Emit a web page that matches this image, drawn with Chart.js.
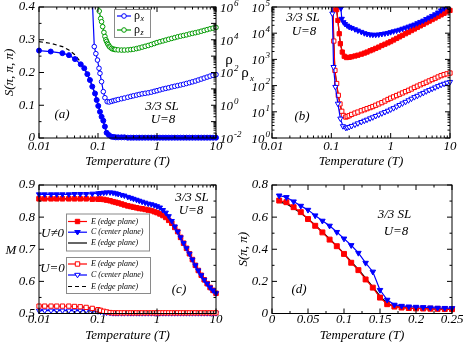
<!DOCTYPE html>
<html>
<head>
<meta charset="utf-8">
<script src="https://cdn.jsdelivr.net/npm/chart.js@4.4.0/dist/chart.umd.min.js"></script>
<style>
  html, body { margin: 0; padding: 0; background: #fff; }
  #wrap { position: relative; width: 463px; height: 343px; overflow: hidden; }
  #wrap canvas { position: absolute; left: 0; top: 0; }
</style>
</head>
<body>
<div id="wrap">
  <canvas id="pa" width="463" height="343"></canvas>
  <canvas id="pb" width="463" height="343"></canvas>
  <canvas id="pc" width="463" height="343"></canvas>
  <canvas id="pd" width="463" height="343"></canvas>
</div>
<script>
// ---- data ----

// shared temperature grid above T = 0.2 (log panels)
const tGrid = [0.2, 0.22, 0.25, 0.28, 0.32, 0.36, 0.4, 0.45, 0.5, 0.56, 0.63, 0.71, 0.8, 0.9, 1,
  1.12, 1.26, 1.41, 1.58, 1.78, 2, 2.24, 2.51, 2.82, 3.16, 3.55, 3.98, 4.47, 5.01, 5.62, 6.31,
  7.08, 7.94, 8.91, 10];

// (a) S(pi,pi,pi), filled circles
const tSA = [0.01, 0.0158, 0.0249, 0.0322, 0.0407, 0.051, 0.0585, 0.066, 0.073, 0.08, 0.089,
  0.095, 0.101, 0.108, 0.115, 0.123, 0.131, 0.14, 0.153, 0.17, 0.185, ...tGrid];
const sA = [0.267, 0.264, 0.259, 0.253, 0.241, 0.225, 0.213, 0.195, 0.177, 0.157, 0.136,
  0.116, 0.098, 0.080, 0.065, 0.053, 0.035, 0.016, 0.009, 0.004, 0.003,
  0.002, 0.002, 0.002, 0.002, 0.001, 0.001, 0.001, 0.001, 0.001, 0.001, 0.001, 0.001, 0.001,
  0.001, 0.001, 0.001, 0.001, 0.001, 0.001, 0.001, 0.001, 0.001, 0.001, 0.001, 0.001, 0.001,
  0.001, 0.001, 0.001, 0.001, 0.001, 0.001, 0.001, 0.001, 0.001];
// (a) dashed reference curve
const tSADash = [0.01, 0.0158, 0.025, 0.032, 0.04, 0.05, 0.06, 0.07, 0.08, 0.09, 0.1, 0.11,
  0.12, 0.13, 0.14, 0.15, 0.16, 0.18, 0.2, 0.5, 1, 10];
const sADash = [0.294, 0.289, 0.279, 0.269, 0.255, 0.234, 0.21, 0.185, 0.158, 0.133, 0.104,
  0.079, 0.057, 0.035, 0.014, 0.004, 0.001, 0, 0, 0, 0, 0];
// (a) rho_x and rho_z, log10 values
const tRhoXA = [0.08, 0.0865, 0.092, 0.098, 0.104, 0.108, 0.115, 0.123, 0.131, 0.143, 0.155,
  0.17, 0.185, ...tGrid];
const rhoXALog = [6.5, 3.58, 3.15, 2.76, 2.26, 1.95, 1.44, 0.83, 0.46, 0.22, 0.2, 0.24, 0.28,
  0.31, 0.35, 0.4, 0.44, 0.49, 0.54, 0.58, 0.62, 0.66, 0.7, 0.73, 0.76, 0.8, 0.85, 0.89,
  0.94, 0.99, 1.03, 1.07, 1.12, 1.16, 1.2, 1.24, 1.28, 1.33, 1.38, 1.43, 1.48, 1.54, 1.6,
  1.66, 1.72, 1.78, 1.83, 1.87];
const tRhoZA = [0.098, 0.105, 0.111, 0.115, 0.12, 0.126, 0.131, 0.136, 0.14, 0.145, 0.149,
  0.155, 0.16, 0.17, 0.18, 0.19, ...tGrid];
const rhoZALog = [6.6, 5.75, 5.3, 5.1, 4.8, 4.45, 4.2, 4.0, 3.9, 3.78, 3.7, 3.6, 3.55, 3.47,
  3.43, 3.41,
  3.4, 3.38, 3.37, 3.37, 3.38, 3.4, 3.42, 3.46, 3.5, 3.55, 3.6, 3.65, 3.71, 3.77, 3.83,
  3.88, 3.93, 3.98, 4.03, 4.08, 4.13, 4.18, 4.22, 4.26, 4.3, 4.35, 4.39, 4.43, 4.47, 4.52,
  4.57, 4.62, 4.67, 4.71, 4.75];

// (b) rho_x, log10 values
const tBlueUpB = [0.14, 0.145, 0.15, 0.16, 0.17, 0.185, ...tGrid];
const blueUpBLog = [5.6, 4.95, 4.55, 4.42, 4.35, 4.29,
  4.24, 4.2, 4.15, 4.1, 4.05, 4.0, 3.97, 3.95, 3.94, 3.94, 3.95, 3.97, 3.99, 4.01, 4.04,
  4.07, 4.1, 4.13, 4.17, 4.21, 4.25, 4.29, 4.33, 4.38, 4.43, 4.48, 4.54, 4.6, 4.66, 4.72,
  4.79, 4.87, 4.95, 5.03, 5.1];
const tRedUpB = [0.118, 0.123, 0.129, 0.136, 0.142, 0.153, 0.165, 0.18, ...tGrid];
const redUpBLog = [5.6, 4.9, 4.49, 3.98, 3.6, 3.28, 3.12, 3.07,
  3.08, 3.1, 3.13, 3.16, 3.2, 3.24, 3.28, 3.33, 3.37, 3.42, 3.47, 3.53, 3.58, 3.63, 3.68,
  3.74, 3.8, 3.86, 3.92, 3.98, 4.04, 4.1, 4.16, 4.22, 4.28, 4.34, 4.4, 4.46, 4.52, 4.58,
  4.64, 4.7, 4.76, 4.82, 4.87];
const tRedLowB = [0.105, 0.11, 0.115, 0.123, 0.131, 0.14, 0.15, 0.16, 0.175, 0.185, ...tGrid];
const redLowBLog = [5.6, 3.7, 2.58, 2.08, 1.63, 1.3, 1.02, 0.86, 0.8, 0.82,
  0.85, 0.9, 0.95, 0.99, 1.04, 1.08, 1.12, 1.16, 1.2, 1.25, 1.3, 1.35, 1.41, 1.47, 1.52,
  1.57, 1.62, 1.67, 1.72, 1.77, 1.82, 1.87, 1.93, 1.98, 2.03, 2.08, 2.13, 2.18, 2.23, 2.28,
  2.33, 2.38, 2.42, 2.45, 2.48];
const tBlueLowB = [0.1, 0.104, 0.109, 0.117, 0.129, 0.142, 0.157, 0.175, 0.185, ...tGrid];
const blueLowBLog = [5.6, 4.75, 2.71, 1.95, 1.31, 0.74, 0.45, 0.39, 0.4,
  0.42, 0.46, 0.51, 0.56, 0.61, 0.66, 0.7, 0.75, 0.79, 0.84, 0.89, 0.94, 0.99, 1.04, 1.09,
  1.14, 1.2, 1.26, 1.32, 1.38, 1.44, 1.5, 1.56, 1.61, 1.67, 1.72, 1.78, 1.83, 1.88, 1.93,
  1.98, 2.03, 2.07, 2.11, 2.14];

// (c) M vs T
const tC = [0.01, 0.0125, 0.016, 0.02, 0.025, 0.032, 0.04, 0.05, 0.063, 0.08, 0.1, 0.11,
  0.125, 0.14, 0.16, 0.18, 0.2, 0.22, 0.25, 0.28, 0.32, 0.36, 0.4, 0.45, 0.5, 0.56, 0.63,
  0.71, 0.8, 0.9, 1, 1.12, 1.26, 1.41, 1.58, 1.78, 2, 2.24, 2.51, 2.82, 3.16, 3.55, 3.98,
  4.47, 5.01, 5.62, 6.31, 7.08, 7.94, 8.91, 10];
const mCenterU = [0.871, 0.871, 0.871, 0.871, 0.871, 0.871, 0.872, 0.872, 0.872, 0.873,
  0.874, 0.875, 0.876, 0.877, 0.877, 0.876, 0.874, 0.872, 0.869, 0.867,
  0.863, 0.86, 0.857, 0.854, 0.851, 0.848, 0.845, 0.842, 0.84, 0.837,
  0.834, 0.83, 0.822, 0.814, 0.803, 0.788, 0.771, 0.755, 0.737, 0.719,
  0.703, 0.686, 0.668, 0.65, 0.634, 0.619, 0.605, 0.593, 0.581, 0.572, 0.563];
const mEdgeU = [0.857, 0.857, 0.857, 0.857, 0.857, 0.857, 0.857, 0.857, 0.857, 0.856,
  0.856, 0.856, 0.855, 0.853, 0.851, 0.848, 0.846, 0.844, 0.841, 0.838,
  0.835, 0.833, 0.831, 0.829, 0.827, 0.826, 0.824, 0.822, 0.82, 0.817,
  0.814, 0.81, 0.805, 0.799, 0.79, 0.781, 0.768, 0.755, 0.737, 0.719,
  0.703, 0.686, 0.668, 0.65, 0.634, 0.619, 0.605, 0.593, 0.581, 0.572, 0.563];
const mEdge0 = [0.523, 0.523, 0.523, 0.523, 0.523, 0.523, 0.522, 0.521, 0.519, 0.516,
  0.512, 0.51, 0.507, 0.505, 0.503, 0.502, 0.502, 0.502, 0.502, 0.502,
  0.502, 0.502, 0.502, 0.502, 0.502, 0.502, 0.502, 0.502, 0.502, 0.502,
  0.502, 0.502, 0.502, 0.502, 0.502, 0.502, 0.502, 0.502, 0.502, 0.502,
  0.502, 0.502, 0.502, 0.502, 0.502, 0.502, 0.502, 0.502, 0.502, 0.502, 0.502];
const mCenter0 = [0.509, 0.509, 0.509, 0.509, 0.509, 0.509, 0.509, 0.509, 0.509, 0.508,
  0.507, 0.506, 0.504, 0.503, 0.502, 0.501, 0.501, 0.501, 0.501, 0.501,
  0.501, 0.501, 0.501, 0.501, 0.501, 0.501, 0.501, 0.501, 0.501, 0.501,
  0.501, 0.501, 0.501, 0.501, 0.501, 0.501, 0.501, 0.501, 0.501, 0.501,
  0.501, 0.501, 0.501, 0.501, 0.501, 0.501, 0.501, 0.501, 0.501, 0.501, 0.501];

// (d) S(pi,pi) vs T, linear
const tD = [0.01, 0.02, 0.03, 0.04, 0.05, 0.06, 0.07, 0.08, 0.09, 0.1, 0.11, 0.12, 0.13,
  0.14, 0.15, 0.16, 0.17, 0.18, 0.19, 0.2, 0.21, 0.22, 0.23, 0.24, 0.25];
const sEdgeD = [0.703, 0.693, 0.662, 0.631, 0.588, 0.546, 0.505, 0.46, 0.419, 0.371, 0.316,
  0.27, 0.212, 0.161, 0.099, 0.058, 0.043, 0.037, 0.034, 0.032, 0.031, 0.03, 0.029, 0.028, 0.027];
const sCenterD = [0.734, 0.724, 0.697, 0.67, 0.645, 0.61, 0.577, 0.546, 0.507, 0.466, 0.425,
  0.377, 0.315, 0.26, 0.146, 0.085, 0.054, 0.047, 0.043, 0.041, 0.039, 0.037, 0.035, 0.034, 0.033];
const sEdgeLineD = [0.695, 0.683, 0.655, 0.626, 0.59, 0.55, 0.508, 0.464, 0.42, 0.373, 0.322,
  0.275, 0.22, 0.165, 0.108, 0.062, 0.044, 0.038, 0.034, 0.032, 0.03, 0.029, 0.028, 0.027, 0.026];

// tick values and labels (power labels hold the exponent only)
const tempDecades = [0.01, 0.1, 1, 10];
const tempLabels = ['0.01', '0.1', '1', '10'];
const rhoADecades = [1e-2, 1e-1, 1, 10, 100, 1e3, 1e4, 1e5, 1e6];
const rhoAExps = ['-2', null, '0', null, '2', null, '4', null, '6'];
const rhoBDecades = [1, 10, 100, 1e3, 1e4, 1e5];
const rhoBExps = ['0', '1', '2', '3', '4', '5'];
const sATicks = [0, 0.1, 0.2, 0.3, 0.4];
const sALabels = ['0', '0.1', '0.2', '0.3', '0.4'];
const mTicks = [0.5, 0.6, 0.7, 0.8, 0.9];
const mLabels = ['0.5', '0.6', '0.7', '0.8', '0.9'];
const tDTicks = [0, 0.05, 0.1, 0.15, 0.2, 0.25];
const tDLabels = ['0', '0.05', '0.1', '0.15', '0.2', '0.25'];
const sDTicks = [0, 0.2, 0.4, 0.6, 0.8];
const sDLabels = ['0', '0.2', '0.4', '0.6', '0.8'];

// ---- helpers ----
const SERIF = '"Liberation Serif", "Times New Roman", serif';
const BLUE = '#0000ff', RED = '#ff0000', GREEN = '#009a00', BLACK = '#000000';

Chart.defaults.font.family = SERIF;
Chart.defaults.font.style = 'italic';
Chart.defaults.font.size = 13;
Chart.defaults.color = '#000';
Chart.defaults.animation = false;
Chart.defaults.events = [];
Chart.defaults.plugins.legend.display = false;
Chart.defaults.plugins.tooltip.enabled = false;

const series = (xs, ys) => xs.map((x, i) => ({ x: x, y: ys[i] }));
const fromLog = arr => arr.map(v => Math.pow(10, v));

function logTicks(decades, labels, exps) {
  const list = [];
  decades.forEach((d, i) => {
    list.push({ value: d, major: true, label: labels ? labels[i] : '', exp: exps ? exps[i] : null });
    if (i < decades.length - 1) {
      for (let k = 2; k < 10; k++) list.push({ value: d * k, major: false, label: '' });
    }
  });
  return list;
}

function linTicks(values, labels) {
  const list = [];
  values.forEach((v, i) => {
    list.push({ value: v, major: true, label: labels[i] });
    if (i < values.length - 1) list.push({ value: (v + values[i + 1]) / 2, major: false, label: '' });
  });
  return list;
}

const fixWidth = w => s => { s.width = w; s.paddingTop = 0; s.paddingBottom = 0; };
const fixHeight = h => s => { s.height = h; s.paddingLeft = 0; s.paddingRight = 0; };

function axis(opts) {
  const list = opts.list;
  const cfg = {
    type: opts.type, position: opts.position, min: opts.min, max: opts.max, bounds: 'data',
    grid: { display: false, drawTicks: false }, border: { display: false },
    ticks: { autoSkip: false, maxRotation: 0, padding: opts.pad, callback: (v, i, ticks) => ticks[i].label || '' },
    afterBuildTicks: s => { s.ticks = list.map(t => Object.assign({}, t)); },
    afterFit: opts.horizontal ? fixHeight(opts.size) : fixWidth(opts.size)
  };
  if (opts.title) {
    cfg.title = { display: true, text: opts.title, padding: opts.titlePad };
  }
  return cfg;
}

function drawMark(ctx, shape, x, y, r) {
  ctx.beginPath();
  if (shape === 'circle') {
    ctx.arc(x, y, r, 0, Math.PI * 2);
  } else if (shape === 'rect') {
    ctx.rect(x - r, y - r, 2 * r, 2 * r);
  } else if (shape === 'tri') {
    ctx.moveTo(x - r, y - r * 0.6);
    ctx.lineTo(x + r, y - r * 0.6);
    ctx.lineTo(x, y + r);
    ctx.closePath();
  }
  ctx.fill();
  ctx.stroke();
}

// frame box, inward ticks on chosen sides, and 10^n labels for log axes
const framePlugin = {
  id: 'frame',
  afterDatasetsDraw(chart, args, opts) {
    const { ctx, chartArea: a } = chart;
    ctx.save();
    ctx.strokeStyle = '#000';
    ctx.lineWidth = 1;
    ctx.strokeRect(a.left, a.top, a.right - a.left, a.bottom - a.top);
    Object.entries(opts.sides || {}).forEach(([id, sides]) => {
      const scale = chart.scales[id];
      ctx.beginPath();
      scale.ticks.forEach(t => {
        const p = scale.getPixelForValue(t.value);
        const len = t.major ? 5 : 2.5;
        sides.forEach(s => {
          if (s === 'bottom') { ctx.moveTo(p, a.bottom); ctx.lineTo(p, a.bottom - len); }
          if (s === 'top') { ctx.moveTo(p, a.top); ctx.lineTo(p, a.top + len); }
          if (s === 'left') { ctx.moveTo(a.left, p); ctx.lineTo(a.left + len, p); }
          if (s === 'right') { ctx.moveTo(a.right, p); ctx.lineTo(a.right - len, p); }
        });
      });
      ctx.stroke();
    });
    Object.entries(opts.powers || {}).forEach(([id, pad]) => {
      const scale = chart.scales[id];
      const right = scale.position === 'right';
      ctx.fillStyle = '#000';
      ctx.textBaseline = 'middle';
      ctx.textAlign = 'left';
      scale.ticks.forEach(t => {
        if (t.exp === null || t.exp === undefined) return;
        const p = scale.getPixelForValue(t.value) + 1.5;
        ctx.font = 'italic 13px ' + SERIF;
        const wb = ctx.measureText('10').width;
        ctx.font = 'italic 9px ' + SERIF;
        const we = ctx.measureText(t.exp).width;
        const x0 = right ? a.right + pad : a.left - pad - wb - we - 1;
        ctx.font = 'italic 13px ' + SERIF;
        ctx.fillText('10', x0, p);
        ctx.font = 'italic 9px ' + SERIF;
        ctx.fillText(t.exp, x0 + wb + 1, p - 5);
      });
    });
    ctx.restore();
  }
};

// free text and hand drawn key boxes
const notesPlugin = {
  id: 'notes',
  afterDraw(chart, args, opts) {
    const ctx = chart.ctx;
    (opts.boxes || []).forEach(b => {
      ctx.save();
      ctx.fillStyle = '#fff';
      ctx.strokeStyle = '#8a8a8a';
      ctx.lineWidth = 1;
      ctx.fillRect(b.x, b.y, b.w, b.h);
      ctx.strokeRect(b.x + 0.5, b.y + 0.5, b.w, b.h);
      b.rows.forEach(r => {
        const x0 = b.x + b.lx[0], x1 = b.x + b.lx[1];
        ctx.strokeStyle = r.color;
        ctx.lineWidth = 1.2;
        ctx.setLineDash(r.dash || []);
        ctx.beginPath();
        ctx.moveTo(x0, r.y);
        ctx.lineTo(x1, r.y);
        ctx.stroke();
        ctx.setLineDash([]);
        if (r.mark) {
          ctx.lineWidth = 1;
          ctx.fillStyle = r.fill;
          drawMark(ctx, r.mark, (x0 + x1) / 2, r.y, r.r);
        }
        ctx.fillStyle = '#000';
        ctx.textBaseline = 'middle';
        ctx.textAlign = 'left';
        ctx.font = (r.upright ? '' : 'italic ') + b.size + 'px ' + SERIF;
        const tx = b.x + b.tx;
        ctx.fillText(r.text, tx, r.y);
        if (r.sub) {
          const w = ctx.measureText(r.text).width;
          ctx.font = 'italic ' + Math.round(b.size * 0.7) + 'px ' + SERIF;
          ctx.fillText(r.sub, tx + w + 0.5, r.y + 3);
        }
      });
      ctx.restore();
    });
    (opts.items || []).forEach(n => {
      ctx.save();
      ctx.fillStyle = '#000';
      ctx.textBaseline = 'middle';
      ctx.textAlign = n.align || 'center';
      ctx.font = (n.upright ? '' : 'italic ') + (n.size || 13) + 'px ' + SERIF;
      ctx.fillText(n.t, n.x, n.y);
      ctx.restore();
    });
  }
};

Chart.register(framePlugin, notesPlugin);

const edgeClip = { left: 6, right: 6, top: 0, bottom: 6 };

function line(data, color, extra) {
  return Object.assign({
    data: data, showLine: true, borderColor: color, backgroundColor: color,
    borderWidth: 1.2, pointBorderWidth: 1, pointRadius: 2.5, tension: 0, clip: 6
  }, extra);
}

// ---- (a) ----
new Chart(document.getElementById('pa'), {
  type: 'scatter',
  data: {
    datasets: [
      line(series(tSA, sA), BLUE, { yAxisID: 'y', pointStyle: 'circle', pointRadius: 2.5 }),
      line(series(tSADash, sADash), BLACK, { yAxisID: 'y', pointRadius: 0, borderDash: [4, 3] }),
      line(series(tRhoXA, fromLog(rhoXALog)), BLUE, { yAxisID: 'y2', pointStyle: 'circle', pointRadius: 2.3, backgroundColor: '#fff', clip: edgeClip }),
      line(series(tRhoZA, fromLog(rhoZALog)), GREEN, { yAxisID: 'y2', pointStyle: 'circle', pointRadius: 2.3, backgroundColor: '#fff', clip: edgeClip })
    ]
  },
  options: {
    responsive: false,
    layout: { autoPadding: false, padding: { left: 0, right: 227, top: 7, bottom: 171 } },
    scales: {
      x: axis({ type: 'logarithmic', position: 'bottom', min: 0.01, max: 10, list: logTicks(tempDecades, tempLabels), pad: 1, horizontal: true, size: 34, title: 'Temperature (T)', titlePad: { top: 0, bottom: 3 } }),
      y: axis({ type: 'linear', position: 'left', min: 0, max: 0.4, list: linTicks(sATicks, sALabels), pad: 4, size: 39, title: 'S(\u03C0, \u03C0, \u03C0)', titlePad: { top: 2, bottom: 0 } }),
      y2: axis({ type: 'logarithmic', position: 'right', min: 1e-2, max: 1e6, list: logTicks(rhoADecades, null, rhoAExps), pad: 4, size: 20 })
    },
    plugins: {
      frame: { sides: { x: ['bottom', 'top'], y: ['left'], y2: ['right'] }, powers: { y2: 4 } },
      notes: {
        items: [
          { t: '3/3 SL', x: 162, y: 107 },
          { t: 'U=8', x: 163, y: 120 },
          { t: '(a)', x: 62, y: 115 },
          { t: '\u03C1', x: 229, y: 60, size: 15, upright: true }
        ],
        boxes: [{
          x: 114, y: 9, w: 36, h: 28, lx: [3, 17], tx: 20, size: 12,
          rows: [
            { y: 16, color: BLUE, mark: 'circle', fill: '#fff', r: 2.3, text: '\u03C1', sub: 'x', upright: true },
            { y: 30, color: GREEN, mark: 'circle', fill: '#fff', r: 2.3, text: '\u03C1', sub: 'z', upright: true }
          ]
        }]
      }
    }
  }
});

// ---- (b) ----
new Chart(document.getElementById('pb'), {
  type: 'scatter',
  data: {
    datasets: [
      line(series(tBlueUpB, fromLog(blueUpBLog)), BLUE, { pointStyle: 'triangle', pointRotation: 180, pointRadius: 3, clip: edgeClip }),
      line(series(tRedUpB, fromLog(redUpBLog)), RED, { pointStyle: 'rect', pointRadius: 3, clip: edgeClip }),
      line(series(tRedUpB, fromLog(redUpBLog)), BLACK, { pointRadius: 0, borderWidth: 1.2, clip: edgeClip }),
      line(series(tBlueLowB, fromLog(blueLowBLog)), BLUE, { pointStyle: 'triangle', pointRotation: 180, pointRadius: 3, backgroundColor: '#fff', clip: edgeClip }),
      line(series(tRedLowB, fromLog(redLowBLog)), RED, { pointStyle: 'rect', pointRadius: 3, backgroundColor: '#fff', clip: edgeClip }),
      line(series(tRedLowB, fromLog(redLowBLog)), BLACK, { pointRadius: 0, borderWidth: 1, clip: edgeClip })
    ]
  },
  options: {
    responsive: false,
    layout: { autoPadding: false, padding: { left: 232, right: 13, top: 7, bottom: 171 } },
    scales: {
      x: axis({ type: 'logarithmic', position: 'bottom', min: 0.01, max: 10, list: logTicks(tempDecades, tempLabels), pad: 1, horizontal: true, size: 34, title: 'Temperature (T)', titlePad: { top: 0, bottom: 3 } }),
      y: axis({ type: 'logarithmic', position: 'left', min: 1, max: 1e5, list: logTicks(rhoBDecades, null, rhoBExps), pad: 2, size: 40 })
    },
    plugins: {
      frame: { sides: { x: ['bottom', 'top'], y: ['left', 'right'] }, powers: { y: 2 } },
      notes: {
        items: [
          { t: '3/3 SL', x: 303, y: 18 },
          { t: 'U=8', x: 304, y: 32 },
          { t: '(b)', x: 302, y: 117 },
          { t: '\u03C1', x: 245, y: 73, size: 15, upright: true },
          { t: 'x', x: 252, y: 79, size: 9 }
        ]
      }
    }
  }
});

// ---- (c) ----
new Chart(document.getElementById('pc'), {
  type: 'scatter',
  data: {
    datasets: [
      line(series(tC, mEdge0), RED, { pointStyle: 'rect', pointRadius: 3, backgroundColor: '#fff' }),
      line(series(tC, mCenter0), BLUE, { pointStyle: 'triangle', pointRotation: 180, pointRadius: 3, backgroundColor: '#fff' }),
      line(series(tC, mEdge0), BLACK, { pointRadius: 0, borderDash: [4, 3] }),
      line(series(tC, mCenterU), BLUE, { pointStyle: 'triangle', pointRotation: 180, pointRadius: 3 }),
      line(series(tC, mEdgeU), RED, { pointStyle: 'rect', pointRadius: 3.2 }),
      line(series(tC, mEdgeU), BLACK, { pointRadius: 0 })
    ]
  },
  options: {
    responsive: false,
    layout: { autoPadding: false, padding: { left: 0, right: 247, top: 185, bottom: 0 } },
    scales: {
      x: axis({ type: 'logarithmic', position: 'bottom', min: 0.01, max: 10, list: logTicks(tempDecades, tempLabels), pad: -2, horizontal: true, size: 29.5, title: 'Temperature (T)', titlePad: { top: 0, bottom: 0 } }),
      y: axis({ type: 'linear', position: 'left', min: 0.5, max: 0.9, list: linTicks(mTicks, mLabels), pad: 4, size: 39 })
    },
    plugins: {
      frame: { sides: { x: ['bottom', 'top'], y: ['left', 'right'] } },
      notes: {
        items: [
          { t: '3/3 SL', x: 192, y: 198 },
          { t: 'U=8', x: 191, y: 211 },
          { t: '(c)', x: 179, y: 290 },
          { t: 'U\u22600', x: 52.5, y: 234 },
          { t: 'U=0', x: 52.5, y: 269 },
          { t: 'M', x: 11, y: 251 }
        ],
        boxes: [
          {
            x: 66, y: 213.5, w: 83, h: 37, lx: [2, 21], tx: 25, size: 8,
            rows: [
              { y: 221.5, color: RED, mark: 'rect', fill: RED, r: 2.2, text: 'E (edge plane)' },
              { y: 232.2, color: BLUE, mark: 'tri', fill: BLUE, r: 2.8, text: 'C (center plane)' },
              { y: 243, color: BLACK, text: 'E (edge plane)' }
            ]
          },
          {
            x: 66, y: 257, w: 84, h: 36, lx: [2, 21], tx: 25, size: 8,
            rows: [
              { y: 264, color: RED, mark: 'rect', fill: '#fff', r: 2.2, text: 'E (edge plane)' },
              { y: 275, color: BLUE, mark: 'tri', fill: '#fff', r: 2.8, text: 'C (center plane)' },
              { y: 286.5, color: BLACK, dash: [4, 3], text: 'E (edge plane)' }
            ]
          }
        ]
      }
    }
  }
});

// ---- (d) ----
new Chart(document.getElementById('pd'), {
  type: 'scatter',
  data: {
    datasets: [
      line(series(tD, sCenterD), BLUE, { pointStyle: 'triangle', pointRotation: 180, pointRadius: 3.2 }),
      line(series(tD, sEdgeD), RED, { pointStyle: 'rect', pointRadius: 3.5 }),
      line(series(tD, sEdgeLineD), BLACK, { pointRadius: 0, borderWidth: 1.3 })
    ]
  },
  options: {
    responsive: false,
    layout: { autoPadding: false, padding: { left: 232, right: 11, top: 185, bottom: 0 } },
    scales: {
      x: axis({ type: 'linear', position: 'bottom', min: 0, max: 0.25, list: linTicks(tDTicks, tDLabels), pad: -2, horizontal: true, size: 29.5, title: 'Temperature (T)', titlePad: { top: 0, bottom: 0 } }),
      y: axis({ type: 'linear', position: 'left', min: 0, max: 0.8, list: linTicks(sDTicks, sDLabels), pad: 4, size: 40, title: 'S(\u03C0, \u03C0)', titlePad: { top: 4, bottom: 0 } })
    },
    plugins: {
      frame: { sides: { x: ['bottom', 'top'], y: ['left', 'right'] } },
      notes: {
        items: [
          { t: '3/3 SL', x: 394.5, y: 215 },
          { t: 'U=8', x: 396, y: 232 },
          { t: '(d)', x: 299, y: 290 }
        ]
      }
    }
  }
});
</script>
</body>
</html>
